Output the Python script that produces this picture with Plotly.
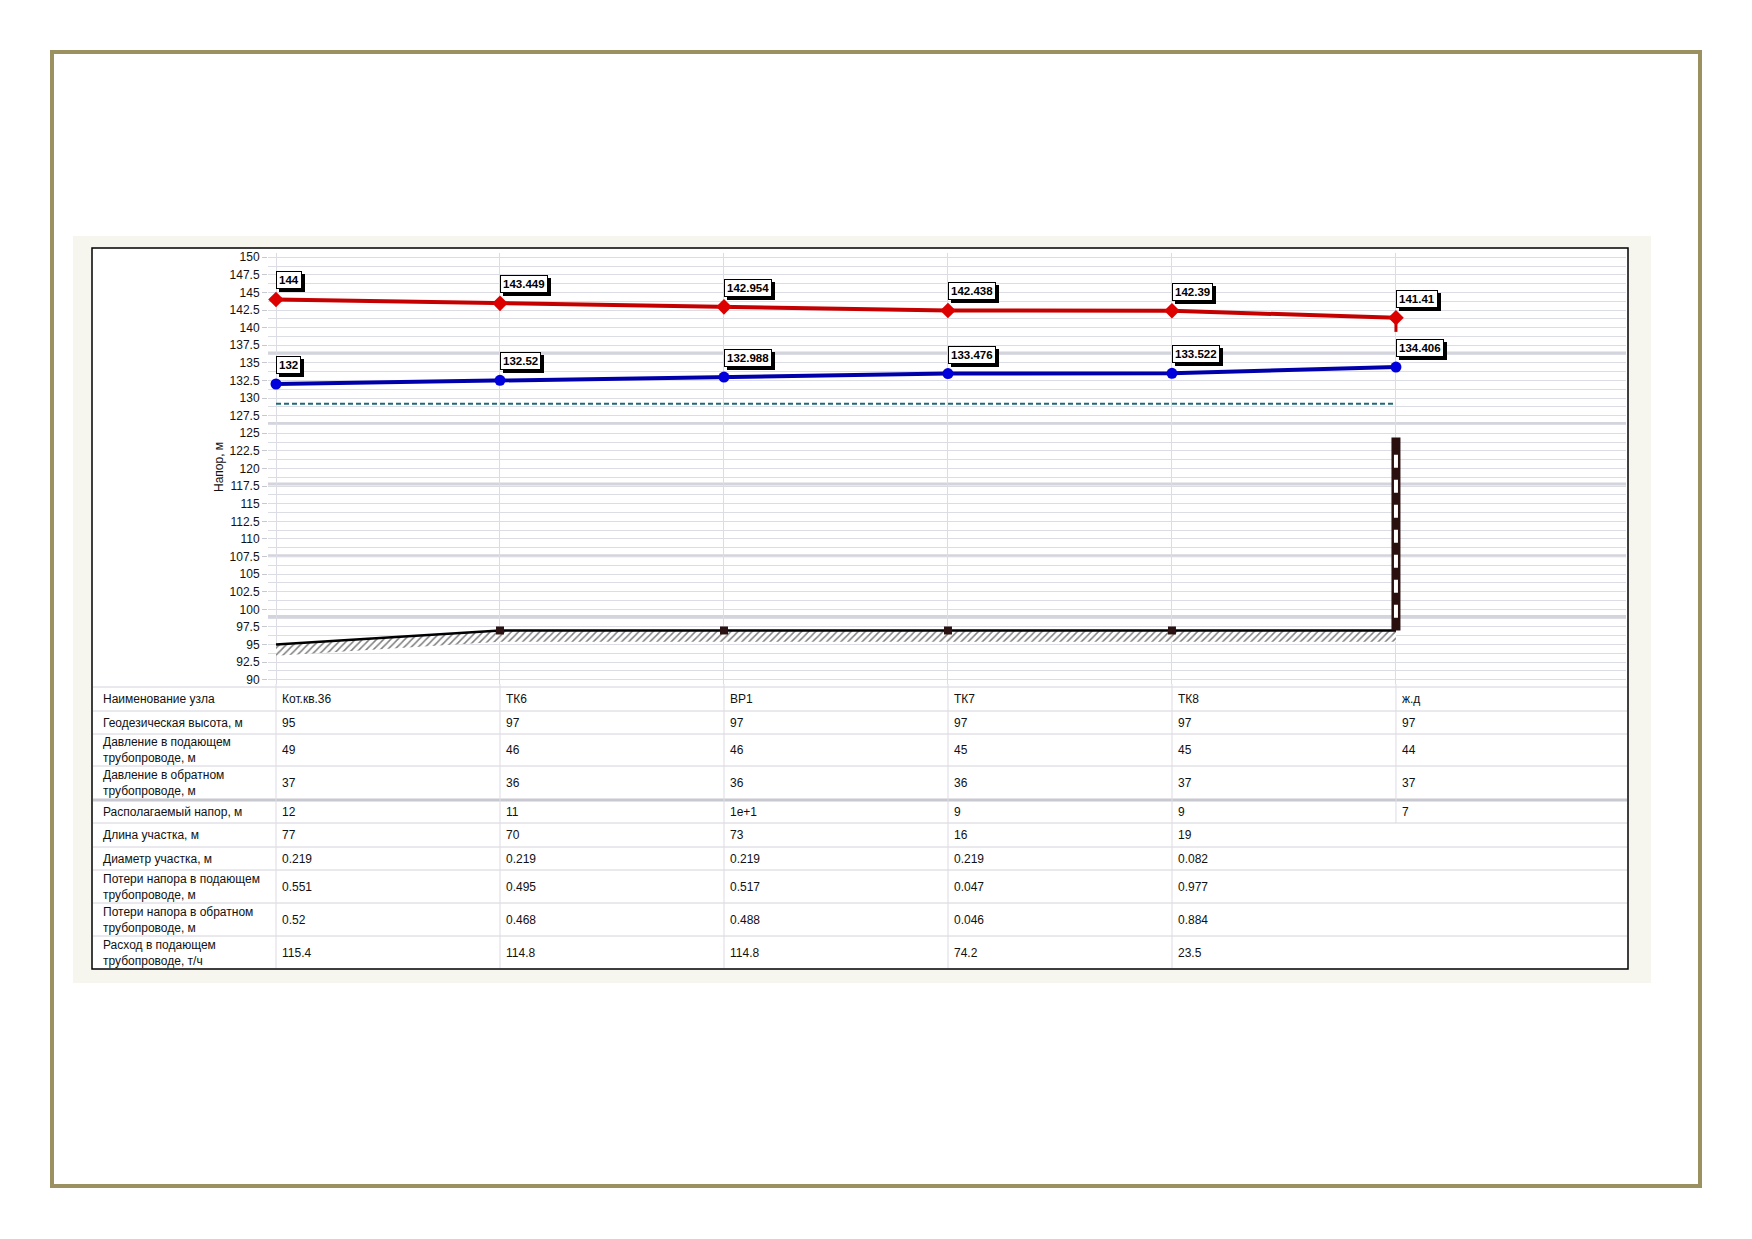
import plotly.graph_objs as go

# node names along the route
nodes = ['Кот.кв.36', 'ТК6', 'ВР1', 'ТК7', 'ТК8', 'ж.д']

# piezometric heads, m
supply_head = [144, 143.449, 142.954, 142.438, 142.39, 141.41]
return_head = [132, 132.52, 132.988, 133.476, 133.522, 134.406]
supply_end_drop = 139.4
static_head = 129.2
bar_top = 124.4
ground_depth = 1.6

# table rows
geo_height = [95, 97, 97, 97, 97, 97]
p_supply = [49, 46, 46, 45, 45, 44]
p_return = [37, 36, 36, 36, 37, 37]
avail_head = [12, 11, '1e+1', 9, 9, 7]
sect_length = [77, 70, 73, 16, 19]
sect_diam = [0.219, 0.219, 0.219, 0.219, 0.082]
loss_supply = [0.551, 0.495, 0.517, 0.047, 0.977]
loss_return = [0.52, 0.468, 0.488, 0.046, 0.884]
flow_supply = [115.4, 114.8, 114.8, 74.2, 23.5]

row_labels = ['Наименование узла', 'Геодезическая высота, м',
              'Давление в подающем<br>трубопроводе, м',
              'Давление в обратном<br>трубопроводе, м',
              'Располагаемый напор, м', 'Длина участка, м', 'Диаметр участка, м',
              'Потери напора в подающем<br>трубопроводе, м',
              'Потери напора в обратном<br>трубопроводе, м',
              'Расход в подающем<br>трубопроводе, т/ч']
row_values = [nodes, geo_height, p_supply, p_return, avail_head,
              sect_length, sect_diam, loss_supply, loss_return, flow_supply]

# y ticks
tick_vals = [90 + 2.5 * i for i in range(25)]
thick_grid = [136.4, 126.4, 117.8, 107.6, 99.0]

xs = list(range(len(nodes)))

# page geometry in window pixels (body keeps its 8px margin)
W, H, OFF = 1736, 1223, 8
PL, PR, PT, PB = 268, 1626, 253, 684   # plot area in window pixels
def px(x):
    return (x - PL) / (PR - PL)
def py(y):
    return (PB - y) / (PB - PT)

FONT = 'Liberation Sans, Arial, sans-serif'
GRID = '#dcdce4'

data = []

# ground hatch
data.append(go.Scatter(
    x=xs + xs[::-1],
    y=geo_height + [g - ground_depth for g in geo_height][::-1],
    fill='toself', mode='none', fillcolor='white',
    fillpattern=dict(shape='/', fgcolor='black', bgcolor='white', size=5, solidity=0.3),
    hoverinfo='skip'))
data.append(go.Scatter(x=xs, y=geo_height, mode='lines',
                       line=dict(color='black', width=2.5)))
data.append(go.Scatter(x=xs[1:-1], y=geo_height[1:-1], mode='markers',
                       marker=dict(symbol='square', size=8, color='#2b1212')))

# checkered bar at the last node
data.append(go.Scatter(x=[xs[-1], xs[-1]], y=[geo_height[-1], bar_top], mode='lines',
                       line=dict(color='#2a0f0f', width=9)))
data.append(go.Scatter(x=[xs[-1], xs[-1]], y=[geo_height[-1] + 1.8, bar_top - 1.3], mode='lines',
                       line=dict(color='white', width=4, dash='13px,12px')))

# static head
data.append(go.Scatter(x=[xs[0], xs[-1]], y=[static_head, static_head], mode='lines',
                       line=dict(color='#1f6a7a', width=2, dash='5px,3px')))

# supply / return lines
data.append(go.Scatter(x=[xs[-1], xs[-1]], y=[supply_head[-1], supply_end_drop], mode='lines',
                       line=dict(color='#c40000', width=3)))
data.append(go.Scatter(x=xs, y=supply_head, mode='lines+markers',
                       line=dict(color='#c40000', width=4),
                       marker=dict(symbol='diamond', size=12, color='#dd0000')))
data.append(go.Scatter(x=xs, y=return_head, mode='lines+markers',
                       line=dict(color='#0000aa', width=4),
                       marker=dict(symbol='circle', size=11, color='#0000dd')))

shapes = [
    dict(type='rect', xref='paper', yref='paper', x0=px(52), x1=px(1700), y0=py(52), y1=py(1186),
         line=dict(color='#9a9060', width=4), fillcolor='white', layer='below'),
    dict(type='rect', xref='paper', yref='paper', x0=px(73), x1=px(1651), y0=py(236), y1=py(983),
         line=dict(width=0), fillcolor='#f6f6ef', layer='below'),
    dict(type='rect', xref='paper', yref='paper', x0=px(92), x1=px(1628), y0=py(248), y1=py(969),
         line=dict(color='black', width=1.5), fillcolor='white', layer='below'),
]
for g in thick_grid:
    shapes.append(dict(type='line', xref='paper', yref='y', x0=0, x1=1, y0=g, y1=g,
                       line=dict(color='#d4d4dc', width=3), layer='between'))

# table grid
row_edges = [687, 711, 734, 766, 800, 823, 847, 870, 903, 936, 969]
for e in row_edges[:-1]:
    w = 3 if e == 800 else 1
    c = '#c8c8d0' if e == 800 else '#d4d4dc'
    shapes.append(dict(type='line', xref='paper', yref='paper', x0=px(93), x1=px(1627),
                       y0=py(e), y1=py(e), line=dict(color=c, width=w)))
for x in xs:
    bottom = py(row_edges[5]) if x == xs[-1] else py(968)
    shapes.append(dict(type='line', xref='x', yref='paper', x0=x, x1=x, y0=0, y1=bottom,
                       line=dict(color=GRID, width=1)))

annotations = []
for r, (lab, vals) in enumerate(zip(row_labels, row_values)):
    yc = py((row_edges[r] + row_edges[r + 1]) / 2)
    annotations.append(dict(xref='paper', yref='paper', x=px(101), y=yc, text=lab,
                            showarrow=False, xanchor='left', yanchor='middle', align='left',
                            font=dict(family=FONT, size=12, color='#111111')))
    for i, v in enumerate(vals):
        annotations.append(dict(xref='x', yref='paper', x=xs[i], y=yc, text=str(v),
                                showarrow=False, xanchor='left', yanchor='middle', xshift=4,
                                font=dict(family=FONT, size=12, color='#111111')))

# value labels with shadow
for series in (supply_head, return_head):
    for i, v in enumerate(series):
        for dx, dy, bg in ((3, 7, 'black'), (0, 10, 'white')):
            annotations.append(dict(x=xs[i], y=v, text='<b>%s</b>' % v, showarrow=False,
                                    xanchor='left', yanchor='bottom', xshift=dx, yshift=dy,
                                    bgcolor=bg, bordercolor='black', borderwidth=1, borderpad=2,
                                    font=dict(family=FONT, size=11.5, color='black')))

annotations.append(dict(xref='paper', yref='paper', x=px(219), y=py(467), text='Напор, м',
                        textangle=-90, showarrow=False, xanchor='center', yanchor='middle',
                        font=dict(family=FONT, size=12, color='#111111')))

layout = go.Layout(
    width=W, height=H,
    margin=dict(l=PL - OFF, r=W - (PR - OFF), t=PT - OFF, b=H - (PB - OFF)),
    paper_bgcolor='white', plot_bgcolor='white',
    showlegend=False,
    xaxis=dict(range=[-0.0357, 6.027], tickvals=xs, showticklabels=False,
               showgrid=True, gridcolor=GRID, zeroline=False, showline=False),
    yaxis=dict(range=[89.4, 150.6], tickvals=tick_vals, ticks='outside', ticklen=5,
               tickcolor='#c8c8d0', showgrid=True, gridcolor=GRID, zeroline=False,
               showline=False, tickfont=dict(family=FONT, size=12, color='#111111'),
               minor=dict(dtick=1.25, tick0=90, showgrid=True, gridcolor=GRID)),
    shapes=shapes,
    annotations=annotations,
)

fig = go.Figure(data=data, layout=layout)
fig.write_html("out.html")
